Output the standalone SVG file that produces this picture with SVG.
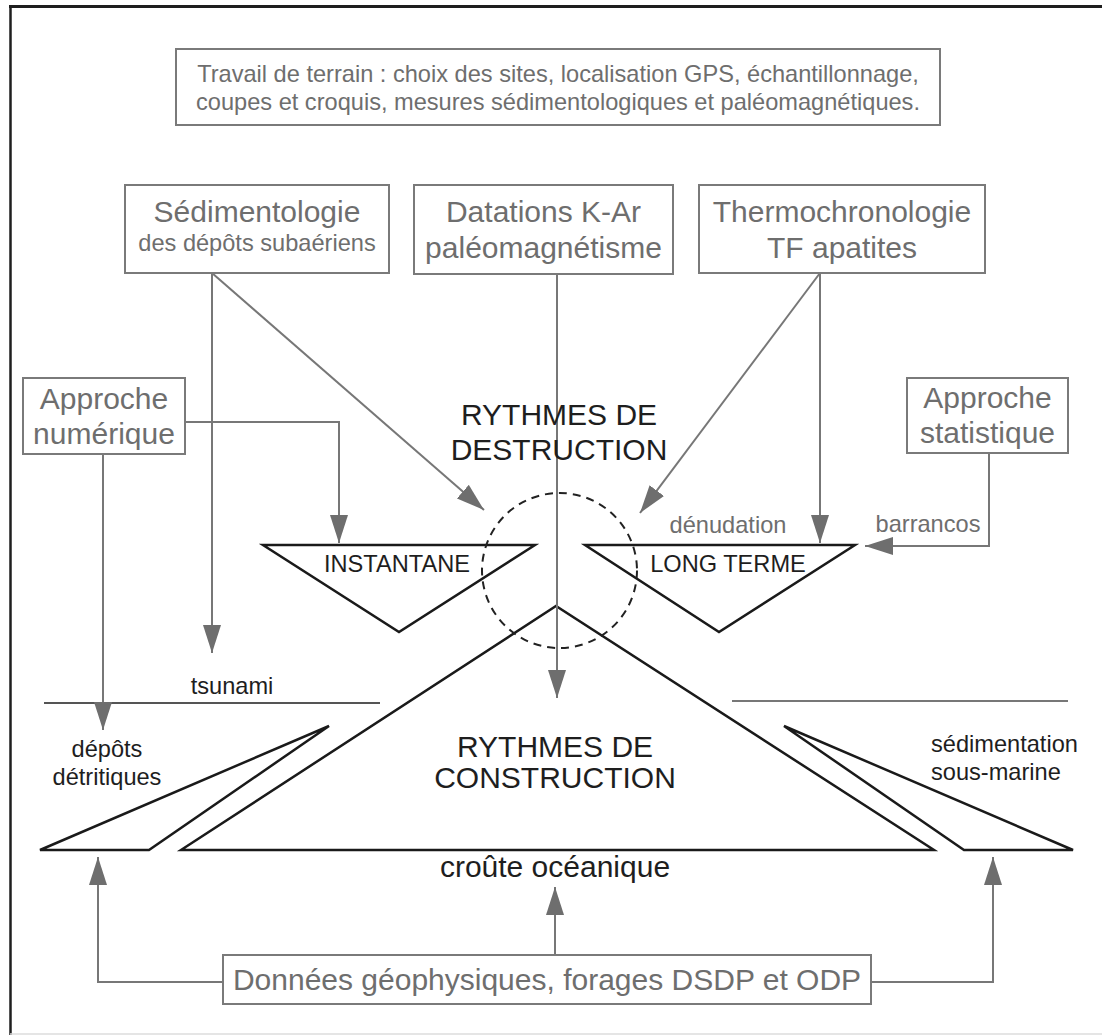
<svg xmlns="http://www.w3.org/2000/svg" width="1102" height="1035" viewBox="0 0 1102 1035">
<defs>
<style>
text{font-family:"Liberation Sans",Arial,Helvetica,sans-serif}
.g{fill:#6e6e6e}
.k{fill:#1e1e1e}
.big{font-size:30px}
.sm{font-size:23.6px}
.box{fill:#fff;stroke:#7a7a7a;stroke-width:2}
.con{fill:none;stroke:#777;stroke-width:2}
.blk{fill:#fff;stroke:#1a1a1a;stroke-width:2.5;stroke-linejoin:miter}
</style>
<marker id="ah" viewBox="0 0 28 18" refX="28" refY="9" markerWidth="28" markerHeight="18" markerUnits="userSpaceOnUse" orient="auto">
<path d="M0,0 L28,9 L0,18 Z" fill="#6e6e6e"/>
</marker>
</defs>
<rect width="1102" height="1035" fill="#fff"/>
<g id="frame">
<line x1="9" y1="6.5" x2="1102" y2="6.5" stroke="#1e1e1e" stroke-width="3"/>
<line x1="10.5" y1="5" x2="10.5" y2="1035" stroke="#1e1e1e" stroke-width="2.5"/>
<line x1="10" y1="1034" x2="1102" y2="1034" stroke="#dddddd" stroke-width="1.5"/>
</g>
<g id="shapes">
<polygon class="blk" points="181,850 556,606 934,850"/>
<polygon class="blk" points="40,850 329,726 149,850"/>
<polygon class="blk" points="784,726 1073,850 964,850"/>
<polygon class="blk" points="263,545 535,545 399,632"/>
<polygon class="blk" points="585,545 855,545 719,632"/>
<line x1="44" y1="703" x2="380" y2="703" stroke="#555" stroke-width="1.8"/>
<line x1="732" y1="701" x2="1068" y2="701" stroke="#777" stroke-width="1.8"/>
<circle cx="559.5" cy="570.5" r="77.5" fill="none" stroke="#222" stroke-width="2" stroke-dasharray="8 6"/>
</g>
<g id="connectors">
<path class="con" d="M212,273 L212,653" marker-end="url(#ah)"/>
<path class="con" d="M212,273 L484,510" marker-end="url(#ah)"/>
<path class="con" d="M557,274 L557,698" marker-end="url(#ah)"/>
<path class="con" d="M820,273 L820,543" marker-end="url(#ah)"/>
<path class="con" d="M820,273 L640,513" marker-end="url(#ah)"/>
<path class="con" d="M185,422 L339,422 L339,543" marker-end="url(#ah)"/>
<path class="con" d="M103,454 L103,730" marker-end="url(#ah)"/>
<path class="con" d="M989,453 L989,546 L865,546" marker-end="url(#ah)"/>
<path class="con" d="M223,982 L98,982 L98,857" marker-end="url(#ah)"/>
<path class="con" d="M871,982 L993,982 L993,857" marker-end="url(#ah)"/>
<path class="con" d="M555,955 L555,887" marker-end="url(#ah)"/>
</g>
<g id="n-terrain">
<rect class="box" x="176" y="49" width="764" height="76"/>
<text class="g sm" x="558" y="82" text-anchor="middle">Travail de terrain : choix des sites, localisation GPS, échantillonnage,</text>
<text class="g sm" x="558" y="110" text-anchor="middle">coupes et croquis, mesures sédimentologiques et paléomagnétiques.</text>
</g>
<g id="n-sedimentologie">
<rect class="box" x="125" y="185" width="264" height="88"/>
<text class="g big" x="257" y="222" text-anchor="middle">Sédimentologie</text>
<text class="g sm" x="257" y="251" text-anchor="middle">des dépôts subaériens</text>
</g>
<g id="n-datations">
<rect class="box" x="414" y="185" width="259" height="89"/>
<text class="g big" x="543.5" y="222" text-anchor="middle">Datations K-Ar</text>
<text class="g big" x="543.5" y="258" text-anchor="middle">paléomagnétisme</text>
</g>
<g id="n-thermo">
<rect class="box" x="699" y="185" width="286" height="88"/>
<text class="g big" x="842" y="222" text-anchor="middle">Thermochronologie</text>
<text class="g big" x="842" y="258" text-anchor="middle">TF apatites</text>
</g>
<g id="n-numerique">
<rect class="box" x="23" y="378" width="162" height="76"/>
<text class="g big" x="104" y="409" text-anchor="middle">Approche</text>
<text class="g big" x="104" y="444" text-anchor="middle">numérique</text>
</g>
<g id="n-statistique">
<rect class="box" x="907" y="378" width="161" height="75"/>
<text class="g big" x="987.5" y="408" text-anchor="middle">Approche</text>
<text class="g big" x="987.5" y="443" text-anchor="middle">statistique</text>
</g>
<g id="n-donnees">
<rect class="box" x="223" y="955" width="648" height="49"/>
<text class="g big" x="547" y="990" text-anchor="middle">Données géophysiques, forages DSDP et ODP</text>
</g>
<g id="labels">
<text class="k big" x="559" y="425" text-anchor="middle">RYTHMES DE</text>
<text class="k big" x="559" y="460" text-anchor="middle">DESTRUCTION</text>
<text class="k sm" x="397" y="572" text-anchor="middle">INSTANTANE</text>
<text class="k sm" x="728" y="572" text-anchor="middle">LONG TERME</text>
<text class="g sm" x="728" y="533" text-anchor="middle">dénudation</text>
<text class="g sm" x="928" y="532" text-anchor="middle">barrancos</text>
<text class="k sm" x="232" y="694" text-anchor="middle">tsunami</text>
<text class="k sm" x="107" y="757" text-anchor="middle">dépôts</text>
<text class="k sm" x="107" y="785" text-anchor="middle">détritiques</text>
<text class="k sm" x="931" y="752">sédimentation</text>
<text class="k sm" x="931" y="780">sous-marine</text>
<text class="k big" x="555" y="757" text-anchor="middle">RYTHMES DE</text>
<text class="k big" x="555" y="788" text-anchor="middle">CONSTRUCTION</text>
<text class="k big" x="555" y="877" text-anchor="middle">croûte océanique</text>
</g>
</svg>
